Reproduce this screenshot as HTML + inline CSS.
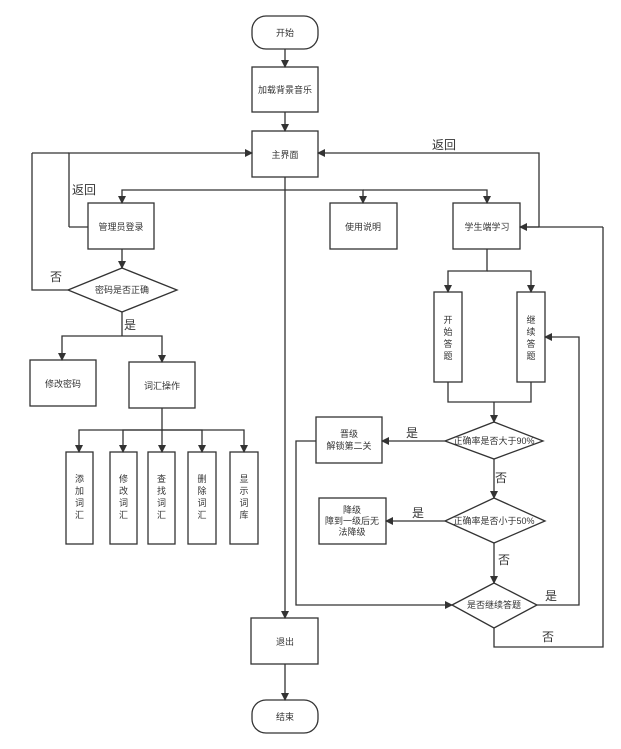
<!DOCTYPE html>
<html><head><meta charset="utf-8"><style>
html,body{margin:0;padding:0;background:#fff}
svg{display:block}
text{font-family:"Liberation Sans","Noto Sans CJK SC",sans-serif;fill:#333}
.n{font-size:9px}
.l{font-size:12px}
</style></head><body>
<svg width="621" height="749" viewBox="0 0 621 749" xmlns="http://www.w3.org/2000/svg">
<defs><marker id="a" markerWidth="8" markerHeight="8" refX="7" refY="4" orient="auto" markerUnits="userSpaceOnUse"><path d="M0,0 L8,4 L0,8 z" fill="#333"/></marker></defs>
<g fill="none" stroke="#333" stroke-width="1.3">
<rect x="252" y="16" width="66" height="33" rx="14"/>
<rect x="252" y="67" width="66" height="45"/>
<rect x="252" y="131" width="66" height="46"/>
<rect x="88" y="203" width="66" height="46"/>
<rect x="330" y="203" width="67" height="46"/>
<rect x="453" y="203" width="67" height="46"/>
<polygon points="68,290 122,268 177,290 122,312"/>
<rect x="30" y="360" width="66" height="46"/>
<rect x="129" y="362" width="66" height="46"/>
<rect x="66" y="452" width="27" height="92"/>
<rect x="110" y="452" width="27" height="92"/>
<rect x="148" y="452" width="27" height="92"/>
<rect x="188" y="452" width="28" height="92"/>
<rect x="230" y="452" width="28" height="92"/>
<rect x="434" y="292" width="28" height="90"/>
<rect x="517" y="292" width="28" height="90"/>
<polygon points="445,441 494,422 543,441 494,459"/>
<rect x="316" y="417" width="66" height="46"/>
<polygon points="445,521 494,498 545,521 494,543"/>
<rect x="319" y="498" width="67" height="46"/>
<polygon points="452,605 494,583 537,605 494,628"/>
<rect x="251" y="618" width="67" height="46"/>
<rect x="252" y="700" width="66" height="33" rx="14"/>
<path d="M285,49 V67" marker-end="url(#a)"/>
<path d="M285,112 V131" marker-end="url(#a)"/>
<path d="M285,177 V618" marker-end="url(#a)"/>
<path d="M285,664 V700" marker-end="url(#a)"/>
<path d="M69,227 H88"/>
<path d="M32,153 H69"/>
<path d="M69,227 V153 H252" marker-end="url(#a)"/>
<path d="M68,290 H32 V153"/>
<path d="M285,190 H122 V203" marker-end="url(#a)"/>
<path d="M285,190 H363 V203" marker-end="url(#a)"/>
<path d="M363,190 H487 V203" marker-end="url(#a)"/>
<path d="M122,249 V268" marker-end="url(#a)"/>
<path d="M122,312 V336"/>
<path d="M122,336 H62 V360" marker-end="url(#a)"/>
<path d="M122,336 H162 V362" marker-end="url(#a)"/>
<path d="M162,408 V452" marker-end="url(#a)"/>
<path d="M162,430 H79 V452" marker-end="url(#a)"/>
<path d="M162,430 H123 V452" marker-end="url(#a)"/>
<path d="M162,430 H202 V452" marker-end="url(#a)"/>
<path d="M162,430 H244 V452" marker-end="url(#a)"/>
<path d="M539,227 V153 H318" marker-end="url(#a)"/>
<path d="M520,227 H539"/>
<path d="M603,227 H520" marker-end="url(#a)"/>
<path d="M487,249 V271 H448 V292" marker-end="url(#a)"/>
<path d="M487,271 H531 V292" marker-end="url(#a)"/>
<path d="M448,382 V402 H531 V382"/>
<path d="M494,402 V422" marker-end="url(#a)"/>
<path d="M445,441 H382" marker-end="url(#a)"/>
<path d="M494,459 V498" marker-end="url(#a)"/>
<path d="M445,521 H386" marker-end="url(#a)"/>
<path d="M494,543 V583" marker-end="url(#a)"/>
<path d="M316,441 H296 V605 H452" marker-end="url(#a)"/>
<path d="M537,605 H579 V337 H545" marker-end="url(#a)"/>
<path d="M494,628 V647 H603 V227"/>
</g>
<g class="n" text-anchor="middle">
<text x="285" y="36">开始</text>
<text x="285" y="93">加载背景音乐</text>
<text x="285" y="158">主界面</text>
<text x="121" y="230">管理员登录</text>
<text x="363" y="230">使用说明</text>
<text x="487" y="230">学生端学习</text>
<text x="122" y="293">密码是否正确</text>
<text x="63" y="387">修改密码</text>
<text x="162" y="389">词汇操作</text>
<text x="494" y="444">正确率是否大于90%</text>
<text x="349" y="437">晋级</text>
<text x="349" y="449">解锁第二关</text>
<text x="494" y="524">正确率是否小于50%</text>
<text x="352" y="513">降级</text>
<text x="352" y="524">障到一级后无</text>
<text x="352" y="535">法降级</text>
<text x="494" y="608">是否继续答题</text>
<text x="285" y="645">退出</text>
<text x="285" y="720">结束</text>
</g>
<g class="n" text-anchor="middle">
<text x="79.5" y="482">添</text><text x="79.5" y="494">加</text><text x="79.5" y="506">词</text><text x="79.5" y="518">汇</text>
<text x="123.5" y="482">修</text><text x="123.5" y="494">改</text><text x="123.5" y="506">词</text><text x="123.5" y="518">汇</text>
<text x="161.5" y="482">查</text><text x="161.5" y="494">找</text><text x="161.5" y="506">词</text><text x="161.5" y="518">汇</text>
<text x="202" y="482">删</text><text x="202" y="494">除</text><text x="202" y="506">词</text><text x="202" y="518">汇</text>
<text x="244" y="482">显</text><text x="244" y="494">示</text><text x="244" y="506">词</text><text x="244" y="518">库</text>
<text x="448" y="323">开</text><text x="448" y="335">始</text><text x="448" y="347">答</text><text x="448" y="359">题</text>
<text x="531" y="323">继</text><text x="531" y="335">续</text><text x="531" y="347">答</text><text x="531" y="359">题</text>
</g>
<g class="l">
<text x="72" y="194">返回</text>
<text x="432" y="149">返回</text>
<text x="50" y="281">否</text>
<text x="124" y="329">是</text>
<text x="406" y="437">是</text>
<text x="495" y="482">否</text>
<text x="412" y="517">是</text>
<text x="498" y="564">否</text>
<text x="545" y="600">是</text>
<text x="542" y="641">否</text>
</g>
</svg>
</body></html>
